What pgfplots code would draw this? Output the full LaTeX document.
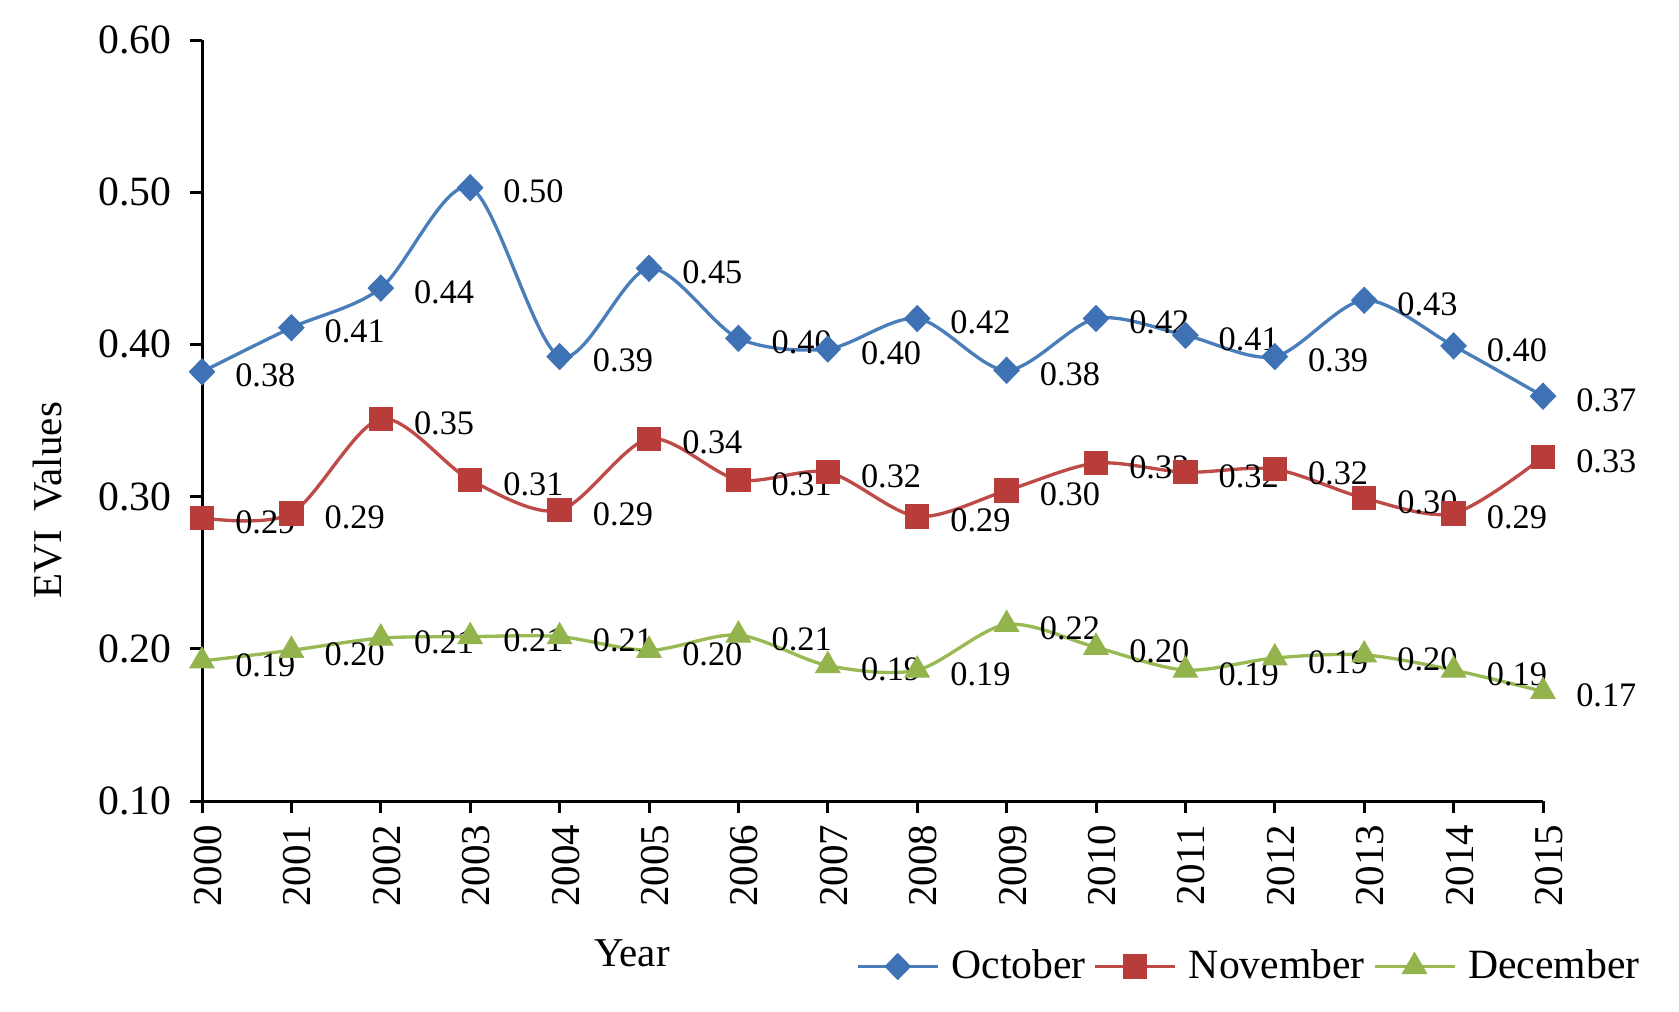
\documentclass[border=0pt]{standalone}
\usepackage{pgfplots}
\pgfplotsset{compat=1.18}
\usepackage{fontspec}
\setmainfont{Liberation Serif}
\definecolor{cOct}{HTML}{4A7EBB}
\definecolor{cOctM}{HTML}{3E72B4}
\definecolor{cNov}{HTML}{BE4B48}
\definecolor{cNovM}{HTML}{B83D3A}
\definecolor{cDec}{HTML}{98B954}
\definecolor{cDecM}{HTML}{93B44C}
\begin{document}
\begin{tikzpicture}
\useasboundingbox (0,0) rectangle (503.7pt,303.3pt);
\begin{axis}[
  at={(60.6pt,63pt)}, anchor=south west,
  scale only axis, width=402.3pt, height=228.3pt,
  xmin=2000, xmax=2015, ymin=0.10, ymax=0.60,
  axis x line*=bottom, axis y line*=left,
  axis line style={line width=0.9pt},
  tick style={line width=0.9pt, black},
  tick align=outside, major tick length=3.6pt,
  xtick={2000,2001,...,2015},
  ytick={0.1,0.2,0.3,0.4,0.5,0.6},
  /pgf/number format/assume math mode=true,
  /pgf/number format/1000 sep={},
  xticklabel style={rotate=90, anchor=east, yshift=-1.8pt, font=\fontsize{12.3}{14}\selectfont},
  yticklabel style={xshift=-2pt, font=\fontsize{12.5}{14}\selectfont, /pgf/number format/.cd, fixed, fixed zerofill, precision=2},
  xlabel={Year},
  xlabel style={at={(axis description cs:0.3207,-0.1997)}, anchor=center, font=\fontsize{12.3}{14}\selectfont},
  ylabel={EVI\hspace{0.45em}Values},
  ylabel style={at={(axis description cs:-0.1148,0.3955)}, anchor=center, font=\fontsize{12.3}{14}\selectfont},
  legend columns=3,
  legend style={at={(axis description cs:1.0848,-0.2175)}, anchor=east, draw=none, fill=none,
    font=\fontsize{12.5}{15}\selectfont,
    /tikz/every even column/.append style={column sep=0.4pt},
    /tikz/every odd column/.append style={column sep=1.6pt}},
  legend image code/.code={\draw[mark repeat=2,mark phase=2] plot coordinates {(0pt,0pt)(12pt,0pt)(24pt,0pt)};},
  nodes near coords={\pgfmathprintnumber[fixed,fixed zerofill,precision=2]{\pgfplotspointmeta}},
  every node near coord/.append style={anchor=west, xshift=6.5pt, yshift=-1.2pt, font=\fontsize{10.3}{12}\selectfont, text=black},
  clip=false,
]
\addplot[smooth, color=cOct, line width=1pt, mark=diamond*, mark size=3.9pt, mark options={fill=cOctM, draw=cOctM, line width=0.3pt, xscale=1.3}] coordinates {
(2000,0.382)(2001,0.411)(2002,0.437)(2003,0.503)(2004,0.392)(2005,0.450)(2006,0.404)(2007,0.397)
(2008,0.417)(2009,0.383)(2010,0.417)(2011,0.406)(2012,0.392)(2013,0.429)(2014,0.399)(2015,0.366)};
\addlegendentry{October}
\addplot[smooth, color=cNov, line width=1pt, mark=square*, mark size=3.5pt, mark options={fill=cNovM, draw=cNovM, line width=0.3pt}] coordinates {
(2000,0.286)(2001,0.289)(2002,0.351)(2003,0.311)(2004,0.291)(2005,0.338)(2006,0.311)(2007,0.316)
(2008,0.287)(2009,0.304)(2010,0.322)(2011,0.316)(2012,0.318)(2013,0.299)(2014,0.289)(2015,0.326)};
\addlegendentry{November}
\addplot[smooth, color=cDec, line width=1pt, mark=triangle*, mark size=4.2pt, mark options={fill=cDecM, draw=cDecM, line width=0.3pt}] coordinates {
(2000,0.192)(2001,0.199)(2002,0.207)(2003,0.208)(2004,0.208)(2005,0.199)(2006,0.209)(2007,0.189)
(2008,0.186)(2009,0.216)(2010,0.201)(2011,0.186)(2012,0.194)(2013,0.196)(2014,0.186)(2015,0.172)};
\addlegendentry{December}
\end{axis}
\end{tikzpicture}
\end{document}
